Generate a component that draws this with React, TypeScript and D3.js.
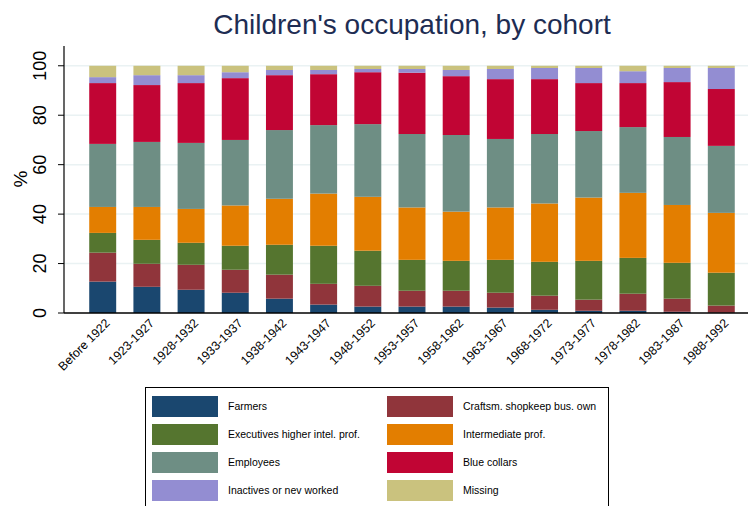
import React, { useEffect, useRef } from "react";
import * as d3 from "d3";

const cohorts = [
  "Before 1922", "1923-1927", "1928-1932", "1933-1937", "1938-1942",
  "1943-1947", "1948-1952", "1953-1957", "1958-1962", "1963-1967",
  "1968-1972", "1973-1977", "1978-1982", "1983-1987", "1988-1992",
];

const seriesNames = [
  "Farmers", "Craftsm. shopkeep bus. own", "Executives higher intel. prof.",
  "Intermediate prof.", "Employees", "Blue collars", "Inactives or nev worked", "Missing",
];

const farmers = [12.7, 10.6, 9.4, 8.2, 5.8, 3.4, 2.6, 2.6, 2.6, 2.2, 1.3, 0.9, 0.9, 0.5, 0.1];
const craftsmen = [11.7, 9.3, 10.1, 9.3, 9.7, 8.4, 8.4, 6.4, 6.4, 6.0, 5.7, 4.5, 6.9, 5.3, 2.9];
const executives = [8.0, 9.7, 8.9, 9.7, 12.1, 15.4, 14.2, 12.5, 12.1, 13.3, 13.7, 15.7, 14.5, 14.5, 13.3];
const intermediate = [10.5, 13.3, 13.7, 16.3, 18.6, 21.1, 21.8, 21.2, 19.9, 21.2, 23.6, 25.6, 26.3, 23.4, 24.2];
const employees = [25.5, 26.3, 26.7, 26.5, 27.8, 27.7, 29.4, 29.7, 31.0, 27.7, 28.1, 26.9, 26.6, 27.5, 27.1];
const blueCollars = [24.6, 23.0, 24.2, 25.0, 22.2, 20.6, 21.0, 24.8, 23.8, 24.2, 22.2, 19.4, 17.8, 22.2, 23.0];
const inactives = [2.4, 4.0, 3.2, 2.4, 2.1, 1.7, 1.3, 1.5, 2.5, 4.1, 4.5, 6.1, 4.8, 5.7, 8.5];
const missing = [4.6, 3.8, 3.8, 2.6, 1.7, 1.7, 1.3, 1.3, 1.7, 1.3, 0.9, 0.9, 2.2, 0.9, 0.9];

const yTicks = [0, 20, 40, 60, 80, 100];

const colors = ["#1a476f", "#90353b", "#55752f", "#e37e00", "#6e8e84", "#c10534", "#938dd2", "#cac27e"];

const W = 750;
const H = 506;

const App = () => {
  const ref = useRef<SVGSVGElement>(null);

  useEffect(() => {
    const svg = d3.select(ref.current);
    svg.selectAll("*").remove();
    const font = "'Liberation Sans', Arial, sans-serif";

    const values = [farmers, craftsmen, executives, intermediate, employees, blueCollars, inactives, missing];
    const rows = cohorts.map((c, i) => {
      const r: any = { cohort: c };
      seriesNames.forEach((s, k) => (r[s] = values[k][i]));
      return r;
    });
    const stacked = d3.stack().keys(seriesNames)(rows);

    const left = 64;
    const right = 748;
    const x = d3.scaleBand().domain(cohorts).range([72, 752]).padding(0.39);
    const y = d3.scaleLinear().domain([0, 108]).range([313, 46]);

    // title
    svg
      .append("text")
      .attr("x", 412)
      .attr("y", 34)
      .attr("text-anchor", "middle")
      .attr("font-family", font)
      .attr("font-size", 28)
      .attr("fill", "#1e2d53")
      .text("Children's occupation, by cohort");

    // grid
    svg
      .append("g")
      .selectAll("line")
      .data(yTicks.filter((t) => t > 0))
      .enter()
      .append("line")
      .attr("x1", left)
      .attr("x2", right)
      .attr("y1", (d) => y(d))
      .attr("y2", (d) => y(d))
      .attr("stroke", "#eaf2f3")
      .attr("stroke-width", 1.5);

    // bars
    svg
      .append("g")
      .selectAll("g")
      .data(stacked)
      .enter()
      .append("g")
      .attr("fill", (_d, i) => colors[i])
      .selectAll("rect")
      .data((d) => d)
      .enter()
      .append("rect")
      .attr("x", (d: any) => x(d.data.cohort)!)
      .attr("y", (d) => y(d[1]))
      .attr("width", x.bandwidth())
      .attr("height", (d) => y(d[0]) - y(d[1]));

    // y axis
    const yAxis = svg.append("g");
    yAxis
      .append("line")
      .attr("x1", left)
      .attr("x2", left)
      .attr("y1", 46)
      .attr("y2", y(0))
      .attr("stroke", "#000")
      .attr("stroke-width", 1.2);
    yAxis
      .selectAll("line.tick")
      .data(yTicks)
      .enter()
      .append("line")
      .attr("class", "tick")
      .attr("x1", left - 6)
      .attr("x2", left)
      .attr("y1", (d) => y(d))
      .attr("y2", (d) => y(d))
      .attr("stroke", "#000")
      .attr("stroke-width", 1);
    yAxis
      .selectAll("text")
      .data(yTicks)
      .enter()
      .append("text")
      .attr("transform", (d) => `translate(46,${y(d)}) rotate(-90)`)
      .attr("text-anchor", "middle")
      .attr("font-family", font)
      .attr("font-size", 18)
      .attr("fill", "#000")
      .text((d) => d);
    svg
      .append("text")
      .attr("transform", `translate(27,179) rotate(-90)`)
      .attr("text-anchor", "middle")
      .attr("font-family", font)
      .attr("font-size", 19)
      .text("%");

    // x axis
    svg
      .append("line")
      .attr("x1", left)
      .attr("x2", right)
      .attr("y1", y(0))
      .attr("y2", y(0))
      .attr("stroke", "#000")
      .attr("stroke-width", 1.5);
    svg
      .append("g")
      .selectAll("text")
      .data(cohorts)
      .enter()
      .append("text")
      .attr("transform", (d) => `translate(${x(d)! + x.bandwidth() / 2 + 8},${y(0) + 11}) rotate(-45)`)
      .attr("text-anchor", "end")
      .attr("font-family", font)
      .attr("font-size", 12.3)
      .attr("fill", "#000")
      .text((d) => d);

    // legend
    const lg = svg.append("g");
    lg.append("rect")
      .attr("x", 145.5)
      .attr("y", 387.5)
      .attr("width", 463)
      .attr("height", 140)
      .attr("fill", "#fff")
      .attr("stroke", "#000")
      .attr("stroke-width", 1);
    const item = lg
      .selectAll("g")
      .data(seriesNames)
      .enter()
      .append("g")
      .attr("transform", (_d, i) => `translate(${i % 2 === 0 ? 152 : 387},${396 + Math.floor(i / 2) * 28})`);
    item
      .append("rect")
      .attr("width", 66)
      .attr("height", 21)
      .attr("fill", (_d, i) => colors[i]);
    item
      .append("text")
      .attr("x", 76)
      .attr("y", 10.5)
      .attr("dy", "0.35em")
      .attr("font-family", font)
      .attr("font-size", 10.5)
      .attr("fill", "#000")
      .text((d) => d);
  }, []);

  return (
    <svg
      ref={ref}
      width={W}
      height={H}
      style={{ position: "absolute", left: 0, top: 0, background: "#fff" }}
    ></svg>
  );
};

export default App;
